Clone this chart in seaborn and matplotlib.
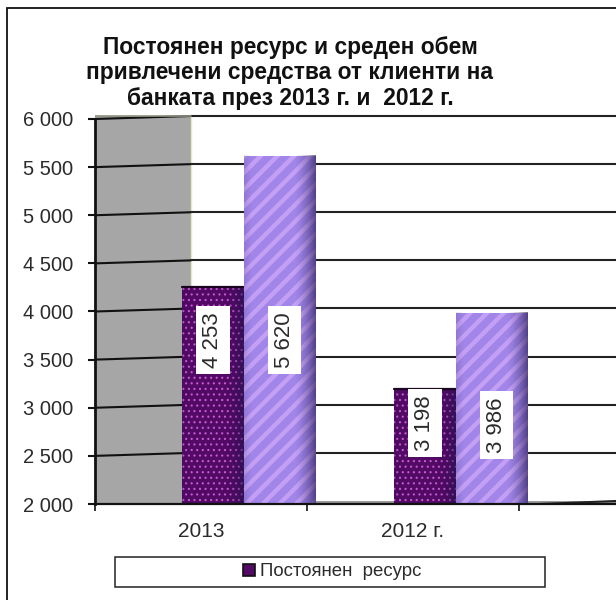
import numpy as np
import pandas as pd
import matplotlib
matplotlib.use("Agg")
import matplotlib.pyplot as plt
from matplotlib.patches import Rectangle
import seaborn as sns

# ── Data ──────────────────────────────────────────────
YEARS = ["2013", "2012 г."]
SERIES = ["Постоянен  ресурс", "Среден обем"]
RESOURCE = [4253, 3198]
AVERAGE = [5620, 3986]
Y_TICKS = [2000, 2500, 3000, 3500, 4000, 4500, 5000, 5500, 6000]

TITLE = ("Постоянен ресурс и среден обем\n"
         "привлечени средства от клиенти на\n"
         "банката през 2013 г. и  2012 г.")

# ── Palette ───────────────────────────────────────────
C_DARK = "#520a64"
C_DOTS = "#c45ad2"
C_LIGHT = "#a185e8"
C_STRIPE = "#c3a0f4"
C_WALL = "#a6a6a6"
C_TEXT = "#2b2b2b"

W, H = 616, 600
PX_Y = 48.125 / 500          # pixels per unit on the value axis
PX_CAT = 212                 # pixels per category

sns.set_theme(style="white")
plt.rcParams["font.family"] = ["Liberation Sans", "DejaVu Sans"]

df = pd.DataFrame({
    "year": YEARS * 2,
    "series": [SERIES[0]] * 2 + [SERIES[1]] * 2,
    "value": RESOURCE + AVERAGE,
})

fig = plt.figure(figsize=(W / 100, H / 100), dpi=100, facecolor="white")
ax = fig.add_axes([95 / W, (H - 504) / H, (W - 95) / W, (504 - 108) / H])

sns.barplot(data=df, x="year", y="value", hue="series", order=YEARS,
            hue_order=SERIES, palette=[C_DARK, C_LIGHT], width=0.63,
            dodge=True, legend=False, saturation=1, ax=ax)

# categories sit at 0 and 1, i.e. px 244 and 456
x_lo = (95 - 244) / PX_CAT
x_hi = (W - 244) / PX_CAT
y_lo, y_hi = 2000, 2000 + (504 - 108) / PX_Y

# grey back wall and the skewed grid
wall_x = x_lo + 96 / PX_CAT
skew = 3 / PX_Y
ax.add_patch(Rectangle((x_lo, y_lo), wall_x - x_lo, Y_TICKS[-1] + skew - y_lo,
                       fc=C_WALL, ec="none", zorder=0.5))
ax.plot([wall_x, wall_x], [y_lo, Y_TICKS[-1] + skew], color="#e6eac4", lw=1, zorder=0.6)
ax.add_patch(Rectangle((wall_x, y_lo), x_hi - wall_x, skew, fc="#9a9a9a", ec="none", zorder=0.5))
for t in Y_TICKS[1:]:
    ax.plot([x_lo, wall_x], [t, t + skew], color="#111111", lw=1.5, zorder=0.7)
    ax.plot([wall_x, x_hi], [t + skew, t + skew], color="#222222", lw=1.5, zorder=0.7)
ax.plot([x_lo, wall_x], [Y_TICKS[-1] + skew] * 2, color="#8f8f80", lw=1.2, zorder=0.7)
ax.plot([x_hi - 76 / PX_CAT, x_hi], [y_lo, y_lo + skew], color="#222222", lw=1.5, zorder=0.7)

# bars: dark one narrower than the light one, both meet at the category position
bars = [b for b in ax.patches if b.get_height() in RESOURCE + AVERAGE]
u = np.linspace(0, 1, 64)
shade = np.zeros((1, 64, 4))
shade[0, :, :3] = [0.12, 0.08, 0.3]
shade[0, :, 3] = np.clip((u - 0.7) / 0.3, 0, 1) ** 1.6 * 0.6 + np.clip((0.1 - u) / 0.1, 0, 1) * 0.12

for b in bars:
    is_dark = b.get_height() in RESOURCE
    cat = round(b.get_x() + b.get_width() / 2 + (0.16 if is_dark else -0.16))
    if is_dark:
        b.set_width(62 / PX_CAT)
        b.set_x(cat - 62 / PX_CAT)
        b.set(hatch="...", edgecolor=C_DOTS, linewidth=0, zorder=2)
        b.set_hatch_linewidth(0.8)
    else:
        b.set_width(72 / PX_CAT)
        b.set_x(cat)
        b.set(hatch="//", edgecolor=C_STRIPE, linewidth=0, zorder=3)
        b.set_hatch_linewidth(3.2)
    ax.imshow(shade, extent=[b.get_x(), b.get_x() + b.get_width(), y_lo, b.get_height()],
              aspect="auto", zorder=b.get_zorder() + 0.1, interpolation="bilinear")
    if is_dark:
        ax.plot([b.get_x(), b.get_x() + b.get_width()], [b.get_height()] * 2,
                color="#1a0420", lw=1.6, zorder=2.2)
ax.set_xlim(x_lo, x_hi)
ax.set_ylim(y_lo, y_hi)

# white data labels, rotated
label_y = {4253: 3704, 5620: 3704, 3198: 2842, 3986: 2816}
for b in bars:
    v = int(b.get_height())
    ax.text(b.get_x() + b.get_width() / 2 + (0.02 if v in AVERAGE else 0), label_y[v],
            f"{v // 1000} {v % 1000:03d}", rotation=90, ha="center", va="center",
            fontsize=16, color=C_TEXT, zorder=5,
            bbox=dict(fc="white", ec="none", pad=4.5))

# axes, ticks
sns.despine(ax=ax, top=True, right=True)
ax.spines["left"].set_bounds(2000, 6000)
ax.spines["left"].set_linewidth(2)
ax.spines["left"].set_color("#111111")
ax.spines["bottom"].set_linewidth(1.6)
ax.spines["bottom"].set_color("#111111")
ax.spines["left"].set_zorder(6)
ax.spines["bottom"].set_zorder(6)

ax.set_yticks(Y_TICKS)
ax.set_yticklabels([f"{t // 1000} {t % 1000:03d}" for t in Y_TICKS], fontsize=14.5, color=C_TEXT)
ax.tick_params(axis="y", left=True, length=5, width=1.5, color="#111111", pad=11)

ax.set_xticks([x_lo, x_lo + 1, x_lo + 2])
ax.set_xticklabels([])
ax.set_xticks([x_lo + 0.5, x_lo + 1.5], minor=True)
ax.set_xticklabels(YEARS, minor=True, fontsize=15, color=C_TEXT)
ax.tick_params(axis="x", which="major", bottom=True, length=5, width=1.2, color="#111111")
ax.tick_params(axis="x", which="minor", bottom=False, pad=9)
ax.set_xlabel("")
ax.set_ylabel("")

# title, outer frame, legend
fig.text(290 / W, 1 - 73 / H, TITLE, ha="center", va="center", fontsize=16.4,
         fontweight="bold", color="#111111", linespacing=1.12)
fig.add_artist(Rectangle((7 / W, -0.02), 1.1, 1 - 8 / H + 0.02, transform=fig.transFigure,
                         fc="none", ec="#111111", lw=1.3, zorder=-1))
fig.add_artist(Rectangle((115 / W, 1 - 587 / H), 430 / W, 30 / H, transform=fig.transFigure,
                         fc="white", ec="#222222", lw=1.1))
leg_handle = Rectangle((0, 0), 1, 1, fc=C_DARK, ec="#111111", lw=1.2)
fig.legend([leg_handle], [SERIES[0]], loc="center", frameon=False, fontsize=13.4,
           bbox_to_anchor=(332 / W, 1 - 572 / H), handlelength=0.65, handleheight=0.65,
           handletextpad=0.25, labelcolor=C_TEXT)

fig.savefig("out.png", dpi=100, facecolor="white")
